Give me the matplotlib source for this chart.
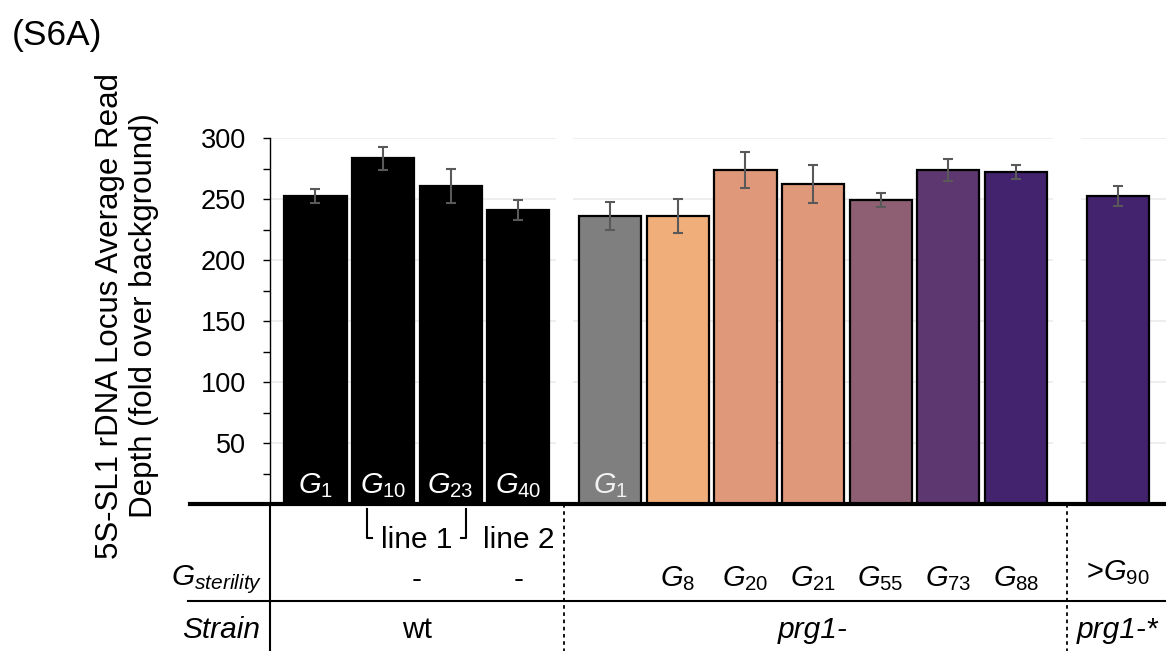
import numpy as np
import matplotlib.pyplot as plt
import matplotlib.transforms as mtransforms
from matplotlib.lines import Line2D

plt.rcParams['font.family'] = ['Liberation Sans', 'DejaVu Sans']
plt.rcParams['mathtext.fontset'] = 'custom'
plt.rcParams['mathtext.rm'] = 'Liberation Sans'
plt.rcParams['mathtext.it'] = 'Liberation Sans:italic'

# data (S6A)
strains = ["wt", "prg1-", "prg1-*"]
groupSizes = [4, 7, 1]
meanValues = [252.5, 283.4, 260.6, 240.7, 236.0, 236.0, 273.5, 262.3, 249.2, 273.5, 272.1, 252.5]
errValues = [5.7, 9.4, 13.8, 8.3, 11.6, 13.9, 14.8, 15.5, 6.0, 9.1, 5.4, 8.0]
barGens = ["1", "10", "23", "40", "1", "", "", "", "", "", "", ""]
sterilityGens = ["", "", "", "", "", "8", "20", "21", "55", "73", "88", ">90"]
wtLines = ["line 1", "line 2"]
barColors = ["#000000", "#000000", "#000000", "#000000", "#7f7f7f", "#f0ae7a",
             "#df987a", "#df987a", "#8e5f72", "#5d376f", "#43226e", "#43226e"]

W, H = 1166.0, 651.0


def fx(px):
    return px / W


def fy(px):
    return 1 - px / H


def main():
    fig = plt.figure(figsize=(W / 100, H / 100), dpi=100)
    ax = fig.add_axes([fx(270), fy(504), fx(896), 366 / H])

    # bar positions, with a gap between strain groups
    groupGaps = [1.36, 1.51]
    xPos = []
    start = 0.0
    for g, n in enumerate(groupSizes):
        xPos.extend(start + np.arange(n))
        if g < len(groupGaps):
            start = xPos[-1] + groupGaps[g]
    xPos = np.array(xPos)
    xMin, xMax = -0.673, 12.58

    # broken grid lines, one piece per group
    yTicks = np.arange(50, 301, 50)
    idx = 0
    for g, n in enumerate(groupSizes):
        x0 = xMin if g == 0 else xPos[idx] - 0.55
        x1 = xMax if g == len(groupSizes) - 1 else xPos[idx + n - 1] + 0.55
        ax.hlines(yTicks, x0, x1, color="#ebebeb", lw=1.2, zorder=0)
        idx += n

    ax.bar(xPos, meanValues, width=0.92, color=barColors, edgecolor="black",
           linewidth=1.6, zorder=2)
    ax.errorbar(xPos, meanValues, yerr=errValues, fmt="none", ecolor="#595959",
                elinewidth=1.5, capsize=3.8, capthick=1.5, zorder=3)

    for i, gen in enumerate(barGens):
        if gen:
            col = "white" if barColors[i] == "#000000" else "#f2f2f2"
            ax.text(xPos[i], 9, r"$\mathit{G_{%s}}$" % gen, color=col, fontsize=21,
                    ha="center", va="baseline", zorder=4)

    ax.set_xlim(xMin, xMax)
    ax.set_ylim(0, 300)
    ax.set_xticks([])
    ax.set_yticks(yTicks)
    ax.set_yticks(np.arange(25, 300, 50), minor=True)
    ax.tick_params(axis="y", which="both", direction="out", length=5, width=1,
                   labelsize=19.5, pad=12.5)
    for s in ["top", "right", "bottom"]:
        ax.spines[s].set_visible(False)
    ax.spines["left"].set_linewidth(1)

    # table below the bars
    trans = mtransforms.blended_transform_factory(ax.transData, fig.transFigure)
    fig.add_artist(Line2D([fx(190), 1], [fy(504), fy(504)], lw=3, color="black"))
    fig.add_artist(Line2D([fx(270), fx(270)], [fy(504), 0], lw=1.5, color="black"))
    fig.add_artist(Line2D([fx(188), 1], [fy(601), fy(601)], lw=1.5, color="black"))
    idx = 0
    for g in range(len(groupSizes) - 1):
        idx += groupSizes[g]
        xm = (xPos[idx - 1] + xPos[idx]) / 2
        fig.add_artist(Line2D([xm, xm], [fy(504), 0], lw=1.3, color="black",
                              linestyle=(0, (2, 2)), transform=trans))

    # line 1 bracket under G10 and G23
    xl, xr = xPos[1] - 0.24, xPos[2] + 0.23
    fig.add_artist(Line2D([xl, xl, xl + 0.075], [fy(509), fy(538), fy(538)],
                          lw=1.5, color="black", transform=trans))
    fig.add_artist(Line2D([xr, xr, xr - 0.075], [fy(509), fy(538), fy(538)],
                          lw=1.5, color="black", transform=trans))
    lineX = [(xPos[1] + xPos[2]) / 2, xPos[3]]
    for x, txt in zip(lineX, wtLines):
        fig.text(x, fy(548), txt, transform=trans, fontsize=21.5, ha="center",
                 va="baseline")
        fig.text(x, fy(588), "-", transform=trans, fontsize=21.5, ha="center",
                 va="baseline")

    fig.text(fx(262), fy(585), r"$\mathit{G_{sterility}}$", fontsize=21.5,
             ha="right", va="baseline")
    for i, gen in enumerate(sterilityGens):
        if gen.startswith(">"):
            fig.text(xPos[i], fy(580), r">$\mathit{G_{%s}}$" % gen[1:],
                     transform=trans, fontsize=21, ha="center", va="baseline")
        elif gen:
            fig.text(xPos[i], fy(586), r"$\mathit{G_{%s}}$" % gen,
                     transform=trans, fontsize=21, ha="center", va="baseline")

    fig.text(fx(260), fy(638), "Strain", fontsize=21.5, style="italic",
             ha="right", va="baseline")
    idx = 0
    for g, n in enumerate(groupSizes):
        xc = (xPos[idx] + xPos[idx + n - 1]) / 2
        st = "normal" if strains[g] == "wt" else "italic"
        fig.text(xc, fy(638), strains[g], transform=trans, fontsize=21.5,
                 style=st, ha="center", va="baseline")
        idx += n

    fig.text(fx(127), fy(316), "5S-SL1 rDNA Locus Average Read\nDepth (fold over background)",
             rotation=90, ha="center", va="center", fontsize=22.5,
             multialignment="center", linespacing=1.15)
    fig.text(fx(12), fy(45), "(S6A)", fontsize=25.5, ha="left", va="baseline")

    fig.savefig("out.png", dpi=100)


if (__name__ == "__main__"):
    main()
